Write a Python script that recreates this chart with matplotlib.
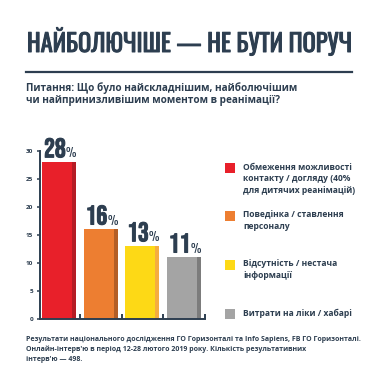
import matplotlib
matplotlib.use("Agg")
import matplotlib.pyplot as plt
import matplotlib.patheffects as pe
from matplotlib.lines import Line2D
from matplotlib.patches import Rectangle

# data
labels = [
    ["Обмеження можливості", "контакту / догляду (40%", "для дитячих реанімацій)"],
    ["Поведінка / ставлення", "персоналу"],
    ["Відсутність / нестача", "інформації"],
    ["Витрати на ліки / хабарі"],
]
values = [28, 16, 13, 11]
colors = ["#e8202a", "#ed7e31", "#fdd916", "#a4a4a4"]
edge_colors = ["#b51c25", "#b45e26", "#f5ad3f", "#7c7c7c"]
yticks = [0, 5, 10, 15, 20, 25, 30]
subtitle = ["Питання: Що було найскладнішим, найболючішим",
            "чи найпринизливішим моментом в реанімації?"]
footer = ["Результати національного дослідження ГО Горизонталі та Info Sapiens, "
          "FB ГО Горизонталі.",
          "Онлайн-інтерв'ю в період 12-28 лютого 2019 року. Кількість "
          "результативних",
          "інтерв'ю — 498."]

INK = "#2d3e50"
W, H = 380, 380
bold_fx = [pe.withStroke(linewidth=0.7, foreground=INK)]


def fx(px):
    return px / W


def fy(py):
    return 1 - py / H


def lines(x0, y0, step, rows, **kw):
    for k, row in enumerate(rows):
        fig.text(fx(x0), fy(y0 + k * step), row, ha="left", va="baseline", **kw)


fig = plt.figure(figsize=(3.8, 3.8), dpi=100)
fig.patch.set_facecolor("white")

# header
fig.text(fx(189), fy(52), "НАЙБОЛЮЧІШЕ — НЕ БУТИ ПОРУЧ", family="Oswald",
         fontsize=17.6, color=INK, ha="center", va="baseline",
         path_effects=bold_fx)
fig.add_artist(Line2D([fx(26), fx(352)], [fy(72), fy(72)], color=INK,
                      lw=1.6, transform=fig.transFigure))
lines(26, 90.5, 12.5, subtitle, family="Open Sans", weight="bold",
      fontsize=7.2, color=INK)

# bars
ax = fig.add_axes([fx(40), fy(319), fx(205) - fx(40), fy(151) - fy(319)])
x = list(range(len(values)))
bw = 0.82
strip = 0.1
ax.bar(x, values, width=bw, align="edge", color=colors, linewidth=0)
ax.bar([i + bw - strip for i in x], values, width=strip, align="edge",
       color=edge_colors, linewidth=0)
ax.set_xlim(-0.06, 3.92)
ax.set_ylim(0, 30)

for i, v in enumerate(values):
    cx = i + bw / 2 + 0.15
    ax.annotate(str(v), (cx, v), xytext=(0, 3.5), textcoords="offset points",
                family="Bebas Neue", fontsize=19.5, color=INK, ha="right",
                va="baseline", path_effects=bold_fx)
    ax.annotate("%", (cx, v), xytext=(0.3, 3.5), textcoords="offset points",
                family="Oswald", fontsize=8.5, color=INK, ha="left",
                va="baseline")

for s in ["top", "right"]:
    ax.spines[s].set_visible(False)
for s in ["left", "bottom"]:
    ax.spines[s].set_color(INK)
    ax.spines[s].set_linewidth(1.4)
ax.set_yticks(yticks)
ax.set_yticklabels([str(t) for t in yticks], family="Open Sans",
                   weight="bold", fontsize=4.6, color=INK)
ax.tick_params(axis="y", direction="out", length=2.5, width=1.1, color=INK,
               pad=2.5)
ax.set_xticks([i + bw + 0.09 for i in x])
ax.set_xticklabels([])
ax.tick_params(axis="x", direction="in", length=3.5, width=1.4, color=INK)

# legend
sq_y = [168, 216, 265, 314]
for lab, col, cy in zip(labels, colors, sq_y):
    fig.add_artist(Rectangle((fx(225), fy(cy + 5)), fx(10), 10 / H,
                             color=col, transform=fig.transFigure, lw=0))
    lines(243, cy + 1.5, 11.7, lab, family="Open Sans", weight="bold",
          fontsize=6.1, color=INK)

# footer
lines(26, 341, 9.8, footer, family="Open Sans", weight="bold", fontsize=5.0,
      color=INK)

fig.savefig("out.png", dpi=100)
